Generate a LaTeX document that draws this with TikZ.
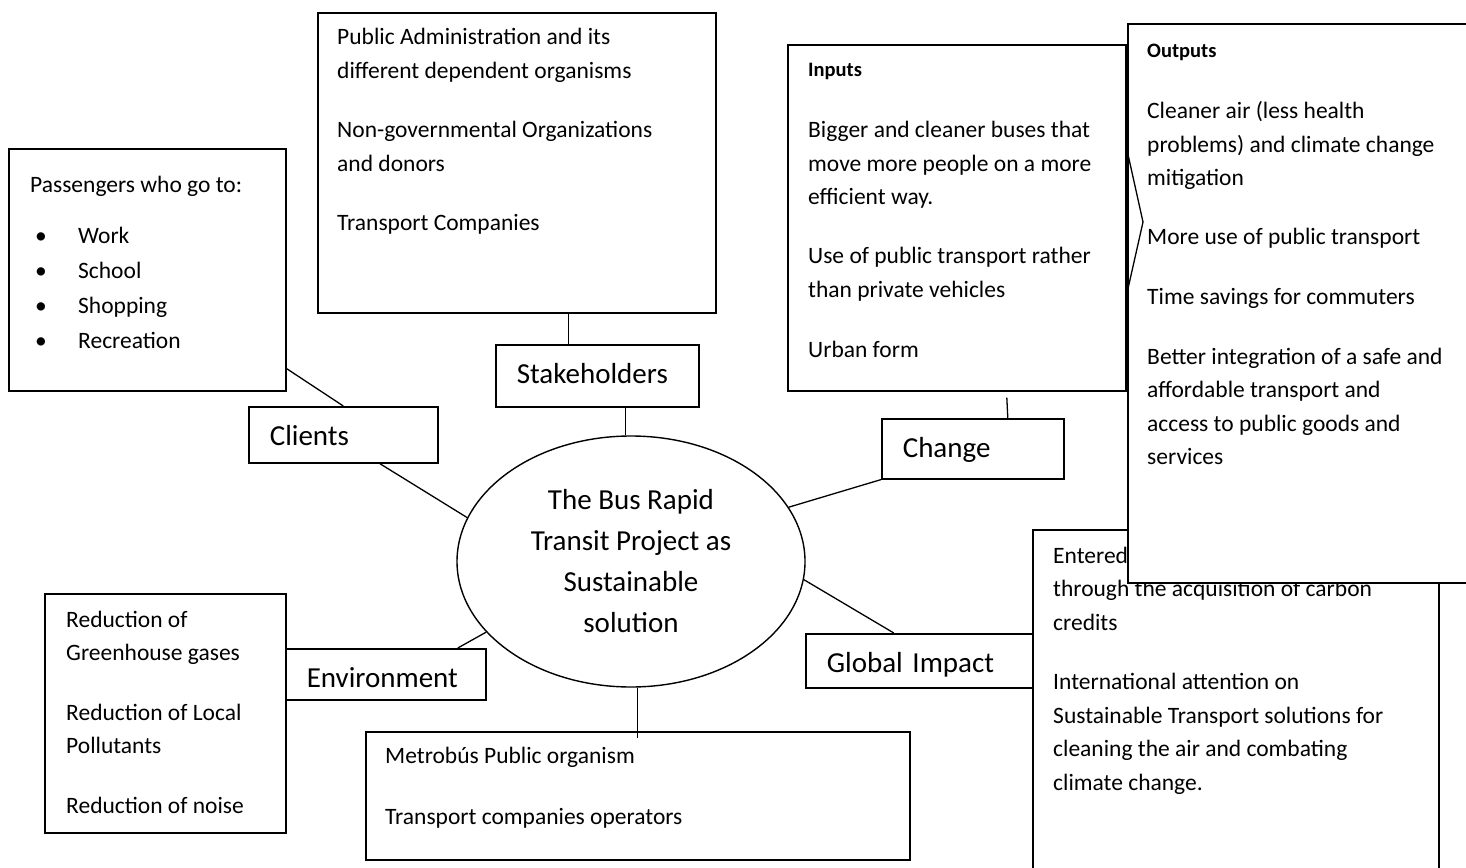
\documentclass[tikz,border=0pt]{standalone}
\usepackage{fontspec}
\setmainfont{Carlito}
\usetikzlibrary{shapes.geometric,positioning,calc}

\newcommand{\smalltxt}{\fontsize{23.5}{33.5}\selectfont}
\newcommand{\bigtxt}{\fontsize{29}{41}\selectfont}
\newcommand{\headtxt}{\fontsize{20.5}{33.5}\selectfont\bfseries}

\tikzset{
  % Content box: plain frame, its text is set as a separate block
  cbox/.style={draw, line width=1.6pt, fill=white, anchor=north west, inner sep=0pt},
  % Text block: first baseline sits on the given point
  ctext/.style={anchor=base west, inner sep=0pt, font=\smalltxt},
  % Category label box: text left aligned, baseline 39pt below the top
  lbox/.style={draw, line width=1.6pt, fill=white, anchor=north west, inner xsep=21pt,
               inner ysep=0pt, align=left, text height=39pt, font=\bigtxt},
  % Central ellipse
  hub/.style={draw, ellipse, line width=1.4pt, fill=white, minimum width=348pt,
              minimum height=251pt, inner sep=0pt, align=center, font=\bigtxt},
  % Plain connector
  link/.style={line width=1.3pt}
}

\begin{document}
\begin{tikzpicture}[x=1pt, y=-1pt]
\useasboundingbox (0,0) rectangle (1466,867);

% ============== Centre ==============
\node[hub] (brt) at (631,561.5) {The Bus Rapid\\Transit Project as\\Sustainable\\solution};

% ============== Stakeholders ==============
\node[cbox, minimum width=398pt, minimum height=300pt] (stkbox) at (317,12) {};
\node[ctext] (stktext) at ($(stkbox.north west)+(20,33)$) {\begin{tabular}[t]{@{}l@{}}
Public Administration and its\\
different dependent organisms\\[26pt]
Non-governmental Organizations\\
and donors\\[26pt]
Transport Companies
\end{tabular}};
\node[lbox, text width=161pt, text depth=23pt] (stk) at (495,344) {Stakeholders};

% ============== Clients ==============
\node[cbox, minimum width=277pt, minimum height=242pt] (pass) at (8,148) {};
\node[ctext, font=\fontsize{23.5}{35}\selectfont] (passtext) at ($(pass.north west)+(22,44)$) {\begin{tabular}[t]{@{}l@{}}
Passengers who go to:\\[16pt]
\hspace*{5pt}\makebox[43pt][l]{\textbullet}Work\\
\hspace*{5pt}\makebox[43pt][l]{\textbullet}School\\
\hspace*{5pt}\makebox[43pt][l]{\textbullet}Shopping\\
\hspace*{5pt}\makebox[43pt][l]{\textbullet}Recreation
\end{tabular}};
\node[lbox, text width=147pt, text depth=17pt] (clients) at (248,406) {Clients};

% ============== Change: inputs ==============
\node[cbox, minimum width=338pt, minimum height=346pt] (inputs) at (787,44) {};
\node[ctext] (inputstext) at ($(inputs.north west)+(21,33)$) {\begin{tabular}[t]{@{}l@{}}
{\headtxt Inputs}\\[27pt]
Bigger and cleaner buses that\\
move more people on a more\\
efficient way.\\[26pt]
Use of public transport rather\\
than private vehicles\\[26pt]
Urban form
\end{tabular}};
\node[lbox, text width=140pt, text depth=21pt] (change) at (881,418) {Change};

% ============== Environment ==============
\node[cbox, minimum width=241pt, minimum height=239pt] (envbox) at (44,593) {};
\node[ctext] (envtext) at ($(envbox.north west)+(22,34)$) {\begin{tabular}[t]{@{}l@{}}
Reduction of\\
Greenhouse gases\\[26pt]
Reduction of Local\\
Pollutants\\[26pt]
Reduction of noise
\end{tabular}};
\node[lbox, text width=158pt, text depth=12pt] (env) at (285,648) {Environment};

% ============== Operators (bottom) ==============
\node[cbox, minimum width=544pt, minimum height=128pt] (mtb) at (365,731) {};
\node[ctext] (mtbtext) at ($(mtb.north west)+(20,32)$) {\begin{tabular}[t]{@{}l@{}}
Metrob\'us Public organism\\[27.5pt]
Transport companies operators
\end{tabular}};

% ============== Global impact ==============
\node[lbox, text width=185pt, text depth=15pt] (glob) at (805,633) {Global Impact};
\node[cbox, minimum width=406pt, minimum height=350pt] (gibox) at (1032,529) {};
\node[ctext] (gitext) at ($(gibox.north west)+(21,34)$) {\begin{tabular}[t]{@{}l@{}}
Entered\\
through the acquisition of carbon\\
credits\\[26pt]
International attention on\\
Sustainable Transport solutions for\\
cleaning the air and combating\\
climate change.
\end{tabular}};

% ============== Change: outputs (lies over the global impact box) ==============
\node[cbox, minimum width=360pt, minimum height=559pt] (outputs) at (1127,23) {};
\node[ctext] (outputstext) at ($(outputs.north west)+(20,35)$) {\begin{tabular}[t]{@{}l@{}}
{\headtxt Outputs}\\[27pt]
Cleaner air (less health\\
problems) and climate change\\
mitigation\\[26pt]
More use of public transport\\[26pt]
Time savings for commuters\\[26pt]
Better integration of a safe and\\
affordable transport and\\
access to public goods and\\
services
\end{tabular}};
\draw[link] ($(outputs.north west)+(0,127)$) -- ($(outputs.north west)+(16,199)$)
  -- ($(outputs.north west)+(0,270)$);

% ============== Connectors ==============
\coordinate (stktop) at ($(stk.north)+(-28.5,0)$);
\draw[link] (stktop) -- (stktop |- stkbox.south);
\coordinate (stkbot) at ($(stk.south)+(28.5,0)$);
\draw[link] (stkbot) -- (stkbot |- brt.north);

\draw[link] ($(pass.south east)+(0,-23)$) -- (clients.north);
\draw[link] ($(clients.south)+(36.5,0)$) -- (brt.165);

\coordinate (chgtop) at ($(change.north)+(35,0)$);
\draw[link] ($(chgtop |- inputs.south)+(-1,6)$) -- (chgtop);
\draw[link] (change.south west) -- (brt.19);

\draw[link] (brt.-6) -- ($(glob.north)+(-25.5,0)$);
\draw[link] ($(env.north)+(72,0)$) -- (brt.206);
\draw[link] (brt.south -| mtb.north) -- ($(mtb.north)+(0,7)$);

\end{tikzpicture}
\end{document}
